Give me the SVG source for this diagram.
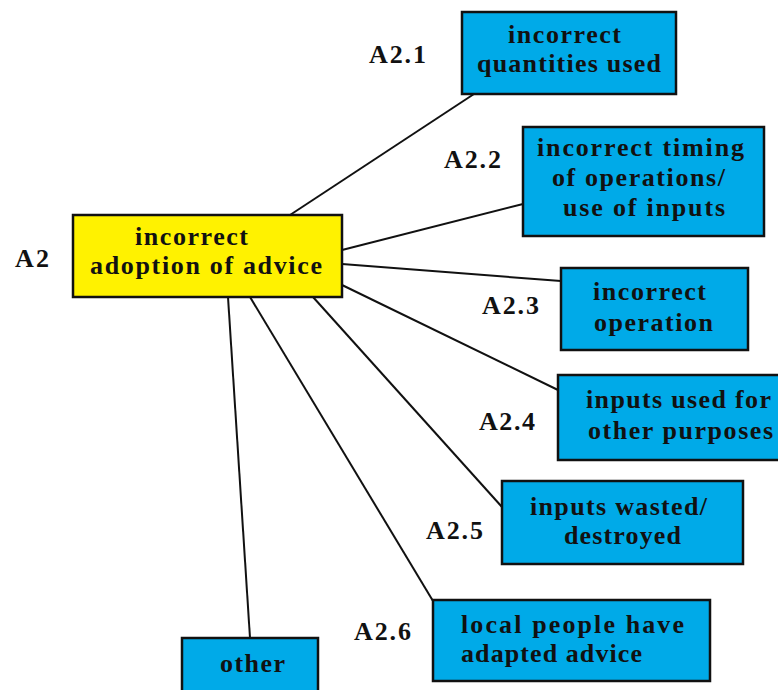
<svg xmlns="http://www.w3.org/2000/svg" width="778" height="690" viewBox="0 0 778 690">
  <style>
    .box { stroke: #111; stroke-width: 2.5; }
    .root { fill: #fff200; }
    .leaf { fill: #00aae8; }
    .t, .lbl { font-family: "Liberation Serif", "Times New Roman", serif; font-weight: bold; font-size: 26px; fill: #111; }
    .edge { stroke: #111; stroke-width: 2; fill: none; }
  </style>
  <rect width="778" height="690" fill="#fff"/>

  <!-- connectors from the root node to each cause -->
  <g id="connectors">
    <line class="edge" x1="290" y1="215" x2="474" y2="94"/>
    <line class="edge" x1="342" y1="250" x2="523" y2="204"/>
    <line class="edge" x1="342" y1="264" x2="561" y2="281"/>
    <line class="edge" x1="342" y1="285" x2="558" y2="390"/>
    <line class="edge" x1="313" y1="297" x2="502" y2="507"/>
    <line class="edge" x1="250" y1="297" x2="433" y2="601"/>
    <line class="edge" x1="228" y1="297" x2="250" y2="638"/>
  </g>

  <g id="node-A2">
    <rect class="box root" x="73" y="215" width="269" height="82"/>
    <text class="t" x="135" y="245" textLength="113" lengthAdjust="spacing">incorrect</text>
    <text class="t" x="90" y="274" textLength="232" lengthAdjust="spacing">adoption of advice</text>
    <text class="lbl" x="15" y="267" textLength="34" lengthAdjust="spacing">A2</text>
  </g>

  <g id="node-A2.1">
    <rect class="box leaf" x="462" y="12" width="214" height="82"/>
    <text class="t" x="508" y="43" textLength="113" lengthAdjust="spacing">incorrect</text>
    <text class="t" x="477" y="72" textLength="184" lengthAdjust="spacing">quantities used</text>
    <text class="lbl" x="369" y="63" textLength="57" lengthAdjust="spacing">A2.1</text>
  </g>

  <g id="node-A2.2">
    <rect class="box leaf" x="523" y="127" width="241" height="109"/>
    <text class="t" x="537" y="156" textLength="207" lengthAdjust="spacing">incorrect timing</text>
    <text class="t" x="552" y="186" textLength="173" lengthAdjust="spacing">of operations/</text>
    <text class="t" x="563" y="216" textLength="162" lengthAdjust="spacing">use of inputs</text>
    <text class="lbl" x="444" y="168" textLength="57" lengthAdjust="spacing">A2.2</text>
  </g>

  <g id="node-A2.3">
    <rect class="box leaf" x="561" y="268" width="187" height="82"/>
    <text class="t" x="593" y="300" textLength="113" lengthAdjust="spacing">incorrect</text>
    <text class="t" x="594" y="331" textLength="119" lengthAdjust="spacing">operation</text>
    <text class="lbl" x="482" y="314" textLength="57" lengthAdjust="spacing">A2.3</text>
  </g>

  <g id="node-A2.4">
    <rect class="box leaf" x="558" y="375" width="230" height="85"/>
    <text class="t" x="586" y="408" textLength="185" lengthAdjust="spacing">inputs used for</text>
    <text class="t" x="588" y="439" textLength="185" lengthAdjust="spacing">other purposes</text>
    <text class="lbl" x="479" y="430" textLength="56" lengthAdjust="spacing">A2.4</text>
  </g>

  <g id="node-A2.5">
    <rect class="box leaf" x="502" y="481" width="241" height="83"/>
    <text class="t" x="530" y="515" textLength="177" lengthAdjust="spacing">inputs wasted/</text>
    <text class="t" x="564" y="544" textLength="117" lengthAdjust="spacing">destroyed</text>
    <text class="lbl" x="426" y="539" textLength="57" lengthAdjust="spacing">A2.5</text>
  </g>

  <g id="node-A2.6">
    <rect class="box leaf" x="433" y="600" width="277" height="81"/>
    <text class="t" x="461" y="633" textLength="223" lengthAdjust="spacing">local people have</text>
    <text class="t" x="461" y="662" textLength="181" lengthAdjust="spacing">adapted advice</text>
    <text class="lbl" x="354" y="640" textLength="57" lengthAdjust="spacing">A2.6</text>
  </g>

  <g id="node-other">
    <rect class="box leaf" x="182" y="638" width="136" height="60"/>
    <text class="t" x="220" y="672" textLength="65" lengthAdjust="spacing">other</text>
  </g>
</svg>
